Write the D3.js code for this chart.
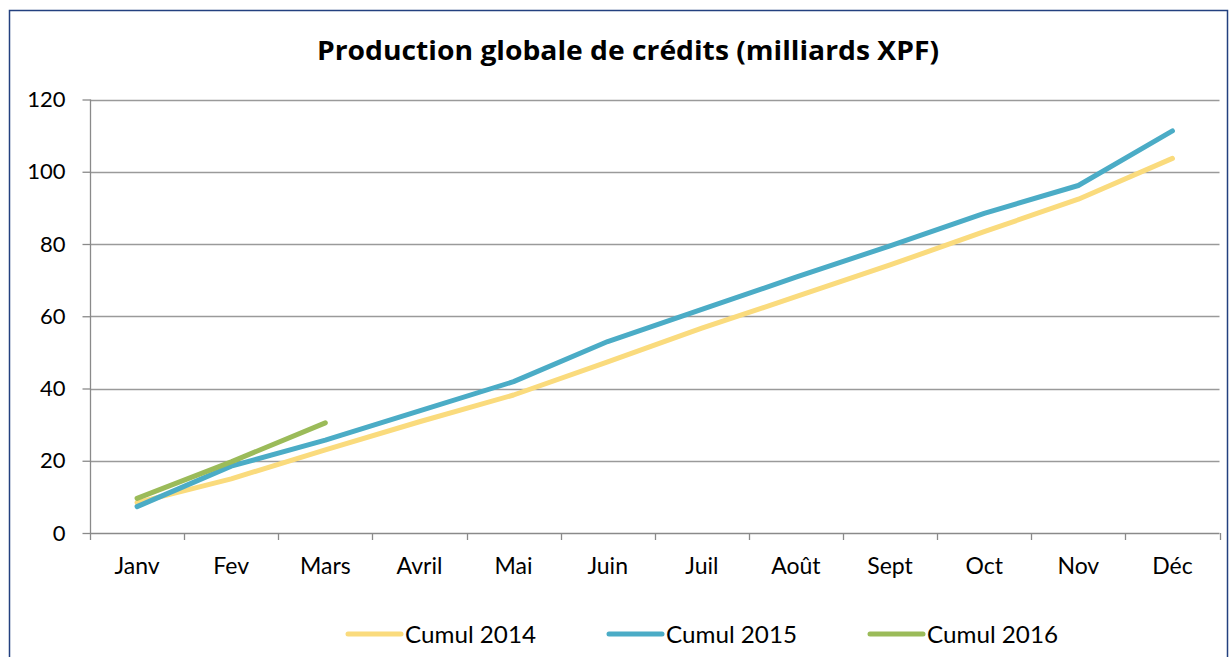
<!DOCTYPE html>
<html><head><meta charset="utf-8">
<script src="https://cdn.jsdelivr.net/npm/d3@7"></script>
<style>body{margin:0;background:#fff;} svg{display:block;} text{font-family:Lato,"Open Sans",sans-serif;}</style>
</head><body><svg id="c" width="1230" height="657"></svg>
<script>
const months = ["Janv","Fev","Mars","Avril","Mai","Juin","Juil","Août","Sept","Oct","Nov","Déc"];
const cumul2014 = [8.4,15,23,30.8,38.2,47.4,56.7,65.4,74.2,83.4,92.4,103.7];
const cumul2015 = [7.3,18.5,25.7,33.8,41.9,53,61.9,70.8,79.5,88.5,96.2,111.3];
const cumul2016 = [9.6,19.7,30.5];
const yTicks = [0,20,40,60,80,100,120];
const seriesNames = ["Cumul 2014","Cumul 2015","Cumul 2016"];
const colors = ["#FADB7D","#4BACC6","#9BBB59"];

const svg = d3.select("#c");
svg.append("rect").attr("x",9.5).attr("y",10.5).attr("width",1218).attr("height",660)
  .attr("fill","#fff").attr("stroke","#23407F").attr("stroke-width",1.5);

const x = d3.scaleBand().domain(months).range([90,1219.5]);
const y = d3.scaleLinear().domain([0,120]).range([533,99.5]);

svg.append("text").attr("x",317).attr("y",60)
  .attr("font-size",27).attr("font-weight","bold").attr("fill","#000")
  .style("font-family","'Open Sans'")
  .attr("textLength",622).attr("lengthAdjust","spacingAndGlyphs")
  .text("Production globale de crédits (milliards XPF)");

// gridlines
svg.append("g").selectAll("line").data(yTicks.filter(d=>d>0)).join("line")
  .attr("x1",90).attr("x2",1219.5).attr("y1",d=>Math.round(y(d))+0.5).attr("y2",d=>Math.round(y(d))+0.5)
  .attr("stroke","#9a9a9a").attr("stroke-width",1.3);

const yAxis = svg.append("g").attr("transform","translate(90.5,0)")
  .call(d3.axisLeft(y).tickValues(yTicks).tickSize(8).tickPadding(17).tickFormat(d3.format("d")));
yAxis.select(".domain").attr("stroke","#8a8a8a").attr("stroke-width",1.3).attr("d","M0,"+y(120)+"V"+y(0));
yAxis.selectAll(".tick line").attr("stroke","#8a8a8a").attr("stroke-width",1.3);
yAxis.selectAll(".tick text").attr("font-size",22).attr("fill","#000").attr("font-family","Lato");

const xAxis = svg.append("g").attr("transform","translate(0,533.5)")
  .call(d3.axisBottom(x).tickSize(0).tickPadding(30));
xAxis.select(".domain").attr("stroke","#8a8a8a").attr("stroke-width",1.3).attr("d","M90,0H1219.5");
xAxis.selectAll(".tick text").attr("font-size",23).attr("fill","#000").attr("font-family","Lato")
  .attr("y",40).attr("dy",0);
svg.append("g").selectAll("line").data(months.concat(["_end"])).join("line")
  .attr("x1",(d,i)=>Math.round(90+i*x.bandwidth())+0.5).attr("x2",(d,i)=>Math.round(90+i*x.bandwidth())+0.5)
  .attr("y1",533).attr("y2",540).attr("stroke","#8a8a8a").attr("stroke-width",1.3);

const line = d3.line().x((d,i)=>x(months[i])+x.bandwidth()/2).y(d=>y(d));
[cumul2014,cumul2015,cumul2016].forEach((s,k)=>{
  svg.append("path").datum(s).attr("d",line).attr("fill","none").attr("stroke",colors[k])
    .attr("stroke-width",5).attr("stroke-linecap","round").attr("stroke-linejoin","round");
});

// legend
const legX = [346,607,868];
seriesNames.forEach((n,k)=>{
  svg.append("line").attr("x1",legX[k]+2).attr("x2",legX[k]+55).attr("y1",634).attr("y2",634)
    .attr("stroke",colors[k]).attr("stroke-width",5).attr("stroke-linecap","round");
  svg.append("text").attr("x",legX[k]+59).attr("y",642.5).attr("font-size",24)
    .attr("textLength",131).attr("lengthAdjust","spacingAndGlyphs")
    .attr("fill","#000").text(n);
});
</script></body></html>
